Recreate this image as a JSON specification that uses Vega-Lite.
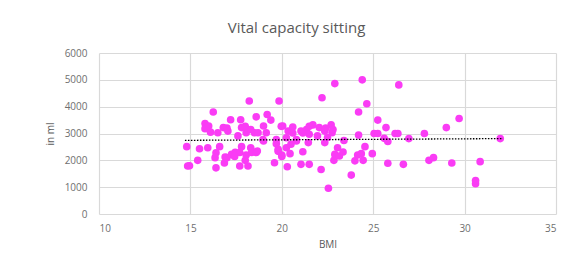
{
  "$schema": "https://vega.github.io/schema/vega-lite/v6.json",
  "autosize": "none",
  "width": 457,
  "height": 161,
  "padding": {"left": 99, "top": 53, "right": 20, "bottom": 55},
  "background": "white",
  "title": {"text": "Vital capacity sitting", "fontSize": 15, "font": "Open Sans", "fontWeight": "normal", "color": "#595959", "anchor": "middle", "dx": -31, "offset": 12},
  "config": {
    "view": {"stroke": null},
    "axis": {"labelFont": "Open Sans", "titleFont": "Open Sans", "labelColor": "#6f6f6f", "titleColor": "#595959", "labelFontSize": 10, "titleFontSize": 10, "titleFontWeight": "normal", "grid": true, "gridColor": "#d9d9d9", "gridWidth": 1.2, "gridOpacity": 1, "domain": false, "ticks": false, "labelOverlap": false}
  },
  "datasets": {
    "pts": [
      {"bmi": 14.8, "vc": 2510}, {"bmi": 14.85, "vc": 1790}, {"bmi": 14.95, "vc": 1800}, {"bmi": 15.4, "vc": 2000}, {"bmi": 15.5, "vc": 2430},
      {"bmi": 15.8, "vc": 3370}, {"bmi": 15.8, "vc": 3180}, {"bmi": 15.95, "vc": 2470}, {"bmi": 16.0, "vc": 3280}, {"bmi": 16.1, "vc": 3050},
      {"bmi": 16.25, "vc": 3800}, {"bmi": 16.4, "vc": 1720}, {"bmi": 16.4, "vc": 2280}, {"bmi": 16.5, "vc": 3030}, {"bmi": 16.35, "vc": 2100},
      {"bmi": 16.6, "vc": 2510}, {"bmi": 16.8, "vc": 3220}, {"bmi": 16.9, "vc": 2120}, {"bmi": 17.05, "vc": 3090}, {"bmi": 17.2, "vc": 3510},
      {"bmi": 17.25, "vc": 2220}, {"bmi": 17.45, "vc": 2300}, {"bmi": 17.6, "vc": 2910}, {"bmi": 17.7, "vc": 2290}, {"bmi": 17.7, "vc": 1790},
      {"bmi": 17.75, "vc": 3510}, {"bmi": 17.8, "vc": 3220}, {"bmi": 17.8, "vc": 2510}, {"bmi": 18.0, "vc": 2000}, {"bmi": 18.05, "vc": 3030},
      {"bmi": 18.05, "vc": 2200}, {"bmi": 18.15, "vc": 1790}, {"bmi": 18.22, "vc": 4210}, {"bmi": 18.3, "vc": 2470}, {"bmi": 18.35, "vc": 2290},
      {"bmi": 18.5, "vc": 3030}, {"bmi": 18.6, "vc": 3620}, {"bmi": 18.6, "vc": 2290}, {"bmi": 18.0, "vc": 3270}, {"bmi": 18.3, "vc": 3150},
      {"bmi": 18.97, "vc": 2770}, {"bmi": 17.0, "vc": 3200}, {"bmi": 16.86, "vc": 1900}, {"bmi": 17.42, "vc": 2147}, {"bmi": 17.0, "vc": 2100},
      {"bmi": 18.7, "vc": 3030}, {"bmi": 18.66, "vc": 2350}, {"bmi": 19.0, "vc": 3280}, {"bmi": 19.0, "vc": 2720}, {"bmi": 19.15, "vc": 3030},
      {"bmi": 19.2, "vc": 3710}, {"bmi": 19.4, "vc": 3500}, {"bmi": 19.6, "vc": 1910}, {"bmi": 19.7, "vc": 2620}, {"bmi": 19.8, "vc": 2410},
      {"bmi": 19.85, "vc": 4210}, {"bmi": 20.0, "vc": 2200}, {"bmi": 20.05, "vc": 3280}, {"bmi": 20.25, "vc": 2840}, {"bmi": 20.25, "vc": 2470},
      {"bmi": 20.3, "vc": 1760}, {"bmi": 20.35, "vc": 3090}, {"bmi": 20.45, "vc": 2250}, {"bmi": 20.5, "vc": 2600}, {"bmi": 20.6, "vc": 3240},
      {"bmi": 20.8, "vc": 2720}, {"bmi": 21.05, "vc": 3090}, {"bmi": 21.05, "vc": 1850}, {"bmi": 21.15, "vc": 2320}, {"bmi": 21.35, "vc": 3150},
      {"bmi": 21.45, "vc": 2660}, {"bmi": 21.5, "vc": 2970}, {"bmi": 21.5, "vc": 1850}, {"bmi": 21.7, "vc": 3320}, {"bmi": 21.95, "vc": 2910},
      {"bmi": 22.05, "vc": 3220}, {"bmi": 22.15, "vc": 1660}, {"bmi": 22.2, "vc": 4330}, {"bmi": 22.35, "vc": 3090}, {"bmi": 22.35, "vc": 2660},
      {"bmi": 22.55, "vc": 960}, {"bmi": 22.7, "vc": 3320}, {"bmi": 22.75, "vc": 3030}, {"bmi": 22.85, "vc": 2000}, {"bmi": 22.9, "vc": 2220},
      {"bmi": 22.9, "vc": 4860}, {"bmi": 19.7, "vc": 2770}, {"bmi": 20.0, "vc": 2147}, {"bmi": 19.8, "vc": 2335}, {"bmi": 20.6, "vc": 3018},
      {"bmi": 21.15, "vc": 3018}, {"bmi": 21.5, "vc": 3267}, {"bmi": 22.4, "vc": 3200}, {"bmi": 20.8, "vc": 2770}, {"bmi": 19.97, "vc": 3267},
      {"bmi": 23.05, "vc": 2470}, {"bmi": 23.15, "vc": 2160}, {"bmi": 23.35, "vc": 2310}, {"bmi": 23.4, "vc": 2740}, {"bmi": 23.8, "vc": 1450},
      {"bmi": 24.0, "vc": 1980}, {"bmi": 24.15, "vc": 2200}, {"bmi": 24.2, "vc": 2940}, {"bmi": 24.2, "vc": 3800}, {"bmi": 24.35, "vc": 2250},
      {"bmi": 24.4, "vc": 5000}, {"bmi": 24.45, "vc": 2000}, {"bmi": 24.55, "vc": 2510}, {"bmi": 24.65, "vc": 4110}, {"bmi": 24.95, "vc": 2250},
      {"bmi": 25.05, "vc": 3000}, {"bmi": 25.25, "vc": 3000}, {"bmi": 25.25, "vc": 3500}, {"bmi": 25.6, "vc": 2820}, {"bmi": 25.7, "vc": 3220},
      {"bmi": 25.8, "vc": 2700}, {"bmi": 25.8, "vc": 1890}, {"bmi": 26.2, "vc": 3000}, {"bmi": 26.35, "vc": 3000}, {"bmi": 26.4, "vc": 4810},
      {"bmi": 26.65, "vc": 1850}, {"bmi": 26.95, "vc": 2810}, {"bmi": 22.8, "vc": 3150}, {"bmi": 22.5, "vc": 2850},
      {"bmi": 27.8, "vc": 3000}, {"bmi": 28.05, "vc": 2000}, {"bmi": 28.3, "vc": 2100}, {"bmi": 29.0, "vc": 3220}, {"bmi": 29.3, "vc": 1900},
      {"bmi": 29.7, "vc": 3560}, {"bmi": 30.6, "vc": 1130}, {"bmi": 30.6, "vc": 1250}, {"bmi": 30.85, "vc": 1950}, {"bmi": 31.95, "vc": 2810}
    ],
    "trend": [
      {"bmi": 14.7, "vc": 2745}, {"bmi": 32.1, "vc": 2810}
    ]
  },
  "encoding": {
    "x": {"field": "bmi", "type": "quantitative", "scale": {"domain": [10, 35], "nice": false, "zero": false}, "axis": {"values": [10, 15, 20, 25, 30, 35], "format": "d", "title": "BMI", "grid": true, "labelPadding": 9, "titlePadding": 6}},
    "y": {"field": "vc", "type": "quantitative", "scale": {"domain": [0, 6000], "nice": false}, "axis": {"values": [0, 1000, 2000, 3000, 4000, 5000, 6000], "format": "d", "title": "in ml", "grid": true, "labelPadding": 12, "titlePadding": 9}}
  },
  "layer": [
    {
      "data": {"name": "pts"},
      "mark": {"type": "point", "filled": true, "shape": "circle", "size": 58, "color": "#fa3cf5", "opacity": 1}
    },
    {
      "data": {"name": "trend"},
      "mark": {"type": "line", "color": "#000000", "strokeWidth": 1.3, "strokeDash": [1.5, 1.5]}
    }
  ]
}
